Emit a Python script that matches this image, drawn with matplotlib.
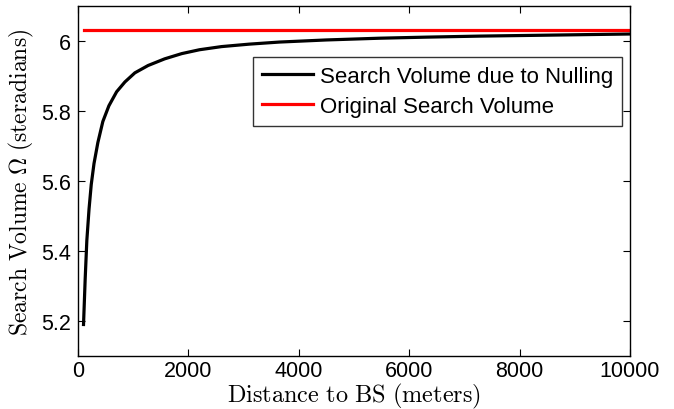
import numpy as np
import matplotlib
matplotlib.use("Agg")
import matplotlib.pyplot as plt

# values
distance_m = [100, 130, 160, 200, 240, 290, 360, 450, 560, 700, 850, 1030, 1270,
              1570, 1880, 2200, 2600, 3100, 3650, 4500, 5470, 6300, 7280, 8200,
              9100, 10000]
volume_nulling = [5.19, 5.32, 5.43, 5.52, 5.59, 5.65, 5.71, 5.77, 5.815, 5.855,
                  5.883, 5.909, 5.930, 5.949, 5.964, 5.975, 5.984, 5.991, 5.997,
                  6.003, 6.008, 6.011, 6.014, 6.016, 6.018, 6.020]
original_range = [100, 10000]
original_volume = [6.032, 6.032]

xticks = [0, 2000, 4000, 6000, 8000, 10000]
yticks = [5.2, 5.4, 5.6, 5.8, 6.0]
ytick_labels = ["5.2", "5.4", "5.6", "5.8", "6"]

plt.rcParams["font.family"] = ["Liberation Sans", "DejaVu Sans"]
plt.rcParams["mathtext.fontset"] = "cm"

fig = plt.figure(figsize=(6.74, 4.10), dpi=100)
ax = fig.add_axes([78 / 674, 53 / 410, 552 / 674, 350 / 410])

ax.plot(distance_m, volume_nulling, color="black", lw=2.3,
        label="Search Volume due to Nulling")
ax.plot(original_range, original_volume, color="red", lw=2.3,
        label="Original Search Volume")

ax.set_xlim(0, 10000)
ax.set_ylim(5.1, 6.1)
ax.set_xticks(xticks)
ax.set_xticklabels([str(t) for t in xticks])
ax.set_yticks(yticks)
ax.set_yticklabels(ytick_labels)
ax.tick_params(direction="in", top=True, right=True, length=5, width=0.8,
               labelsize=15.5)
ax.tick_params(axis="x", pad=3)
ax.tick_params(axis="y", pad=5)
for s in ax.spines.values():
    s.set_linewidth(1.0)

ax.set_xlabel(r"$\mathrm{Distance\ to\ BS\ (meters)}$", fontsize=17.5, labelpad=0)
ax.set_ylabel(r"$\mathrm{Search\ Volume\ \Omega\ (steradians)}$", fontsize=17,
              labelpad=4)

leg = ax.legend(loc="upper right", bbox_to_anchor=(0.9855, 0.854), fontsize=16,
                frameon=True, fancybox=False, edgecolor="black", handlelength=2.3,
                handletextpad=0.3, borderpad=0.4, labelspacing=0.4,
                borderaxespad=0)
leg.get_frame().set_linewidth(1.0)

fig.savefig("out.png", dpi=100)
